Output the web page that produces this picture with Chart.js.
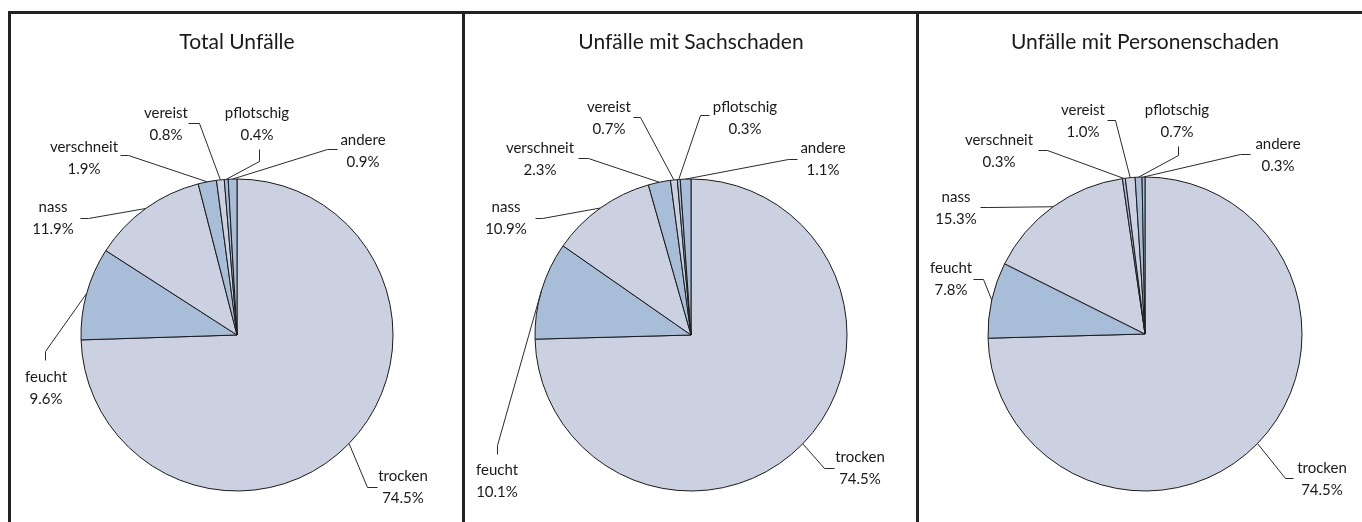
<!DOCTYPE html>
<html>
<head>
<meta charset="utf-8">
<script src="https://cdn.jsdelivr.net/npm/chart.js@4.4.1/dist/chart.umd.min.js"></script>
<style>
  html, body { margin: 0; padding: 0; background: #fff; }
  #wrap { position: relative; width: 1362px; height: 522px; overflow: hidden; background: #fff; }
  .rule { position: absolute; background: #222; }
  canvas { position: absolute; }
</style>
</head>
<body>
<div id="wrap">
  <div class="rule" style="left:8px; top:11px; width:1354px; height:3px;"></div>
  <div class="rule" style="left:8px; top:11px; width:3px; height:511px;"></div>
  <div class="rule" style="left:462px; top:11px; width:3px; height:511px;"></div>
  <div class="rule" style="left:916px; top:11px; width:3px; height:511px;"></div>
  <canvas id="c0" width="452" height="508"></canvas>
  <canvas id="c1" width="452" height="508"></canvas>
  <canvas id="c2" width="452" height="508"></canvas>
</div>
<script>
// data (percent of accidents by road surface)
const categories = ['trocken', 'feucht', 'nass', 'verschneit', 'vereist', 'pflotschig', 'andere'];
const panelTitles = ['Total Unfälle', 'Unfälle mit Sachschaden', 'Unfälle mit Personenschaden'];
const totalShares = [74.5, 9.6, 11.9, 1.9, 0.8, 0.4, 0.9];
const sachShares = [74.5, 10.1, 10.9, 2.3, 0.7, 0.3, 1.1];
const personShares = [74.5, 7.8, 15.3, 0.3, 1.0, 0.7, 0.3];

const LIGHT = '#cbd1e0';
const DARK = '#a8bdd7';
const sliceColors = [LIGHT, DARK, LIGHT, DARK, LIGHT, DARK, DARK];

// panel geometry (page px): pie centre and radius
const panels = [
  { id: 'c0', title: panelTitles[0], values: totalShares, cx: 237, cy: 335, r: 156 },
  { id: 'c1', title: panelTitles[1], values: sachShares, cx: 691, cy: 335, r: 156 },
  { id: 'c2', title: panelTitles[2], values: personShares, cx: 1145, cy: 334, r: 157 }
];

// label placement relative to the pie centre: text [x, y of first line], elbow and end of leader
const labelLayouts = [
  [
    { text: [166, 141], elbow: [130, 152], end: [140, 152] },
    { text: [-191, 42], elbow: [-192, 16], end: [-192, 25] },
    { text: [-184, -128], elbow: [-149, -117], end: [-157, -117] },
    { text: [-153, -188], elbow: [-109, -180], end: [-117, -180] },
    { text: [-71, -222], elbow: [-38, -212], end: [-49, -212] },
    { text: [20, -222], elbow: [22, -174], end: [22, -186] },
    { text: [126, -195], elbow: [90, -186], end: [100, -186] }
  ],
  [
    { text: [169, 122], elbow: [133, 133], end: [143, 133] },
    { text: [-194, 135], elbow: [-194, 110], end: [-194, 119] },
    { text: [-185, -128], elbow: [-149, -117], end: [-156, -117] },
    { text: [-151, -187], elbow: [-103, -177], end: [-113, -177] },
    { text: [-82, -228], elbow: [-51, -218], end: [-58, -218] },
    { text: [54, -228], elbow: [9, -220], end: [18, -220] },
    { text: [132, -187], elbow: [97, -176], end: [106, -176] }
  ],
  [
    { text: [177, 134], elbow: [140, 144], end: [148, 144] },
    { text: [-194, -66], elbow: [-162, -55], end: [-172, -55] },
    { text: [-189, -137], elbow: [-157, -127], end: [-165, -127] },
    { text: [-146, -194], elbow: [-98, -184], end: [-107, -184] },
    { text: [-62, -224], elbow: [-30, -214], end: [-38, -214] },
    { text: [32, -224], elbow: [33, -179], end: [33, -188] },
    { text: [133, -190], elbow: [95, -180], end: [105, -180] }
  ]
];

const CANVAS_TOP = 14;
const CANVAS_W = 452;
const CANVAS_H = 508;
const TITLE_SIZE = 21;
const TITLE_Y = 42; // page y of title middle

// draws the leader lines and the two-line labels
const leaderLabels = {
  id: 'leaderLabels',
  afterDatasetsDraw(chart, args, opts) {
    const ctx = chart.ctx;
    const meta = chart.getDatasetMeta(0);
    const values = chart.data.datasets[0].data;
    ctx.save();
    ctx.strokeStyle = '#2a2a2a';
    ctx.lineWidth = 1;
    ctx.fillStyle = '#1a1a1a';
    ctx.font = '15px Lato';
    ctx.textAlign = 'center';
    ctx.textBaseline = 'middle';
    meta.data.forEach((arc, i) => {
      const p = arc.getProps(['x', 'y', 'startAngle', 'endAngle', 'outerRadius'], true);
      const mid = (p.startAngle + p.endAngle) / 2;
      const lay = opts.layout[i];
      const sx = p.x + Math.cos(mid) * p.outerRadius;
      const sy = p.y + Math.sin(mid) * p.outerRadius;
      ctx.beginPath();
      ctx.moveTo(sx, sy);
      ctx.lineTo(p.x + lay.elbow[0] + 0.5, p.y + lay.elbow[1] + 0.5);
      ctx.lineTo(p.x + lay.end[0] + 0.5, p.y + lay.end[1] + 0.5);
      ctx.stroke();
      const tx = p.x + lay.text[0];
      const ty = p.y + lay.text[1];
      ctx.fillText(chart.data.labels[i], tx, ty);
      ctx.fillText(values[i].toFixed(1) + '%', tx, ty + 22.5);
    });
    ctx.restore();
  }
};

panels.forEach((pn, k) => {
  const canvas = document.getElementById(pn.id);
  canvas.style.left = (pn.cx - CANVAS_W / 2) + 'px';
  canvas.style.top = CANVAS_TOP + 'px';
  const localCy = pn.cy - CANVAS_TOP;
  const half = 162;
  const titleLine = TITLE_SIZE * 1.2;
  const titlePadTop = (TITLE_Y - CANVAS_TOP) - titleLine / 2;
  const titlePadBottom = (localCy - half) - titlePadTop - titleLine;

  new Chart(canvas.getContext('2d'), {
    type: 'pie',
    data: {
      labels: categories,
      datasets: [{
        data: pn.values,
        backgroundColor: sliceColors,
        borderColor: '#1a1a1a',
        borderWidth: 1
      }]
    },
    options: {
      responsive: false,
      animation: false,
      events: [],
      devicePixelRatio: 1,
      radius: pn.r,
      layout: {
        padding: { left: CANVAS_W / 2 - half, right: CANVAS_W / 2 - half, top: 0, bottom: CANVAS_H - (localCy + half) }
      },
      plugins: {
        legend: { display: false },
        tooltip: { enabled: false },
        title: {
          display: true,
          text: pn.title,
          color: '#1a1a1a',
          font: { family: 'Lato', size: TITLE_SIZE, weight: 'normal', lineHeight: 1.2 },
          padding: { top: titlePadTop, bottom: titlePadBottom }
        },
        leaderLabels: { layout: labelLayouts[k] }
      }
    },
    plugins: [leaderLabels]
  });
});
</script>
</body>
</html>
